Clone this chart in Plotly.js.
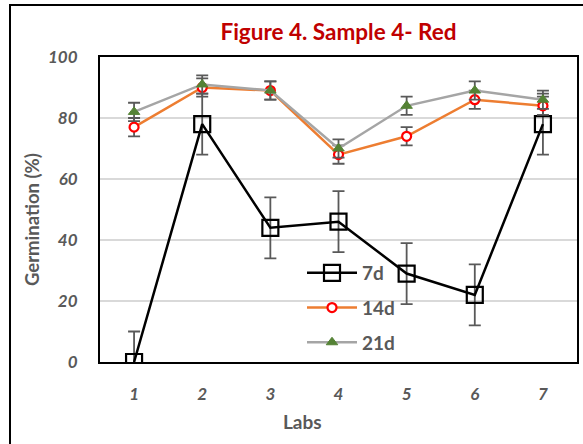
<!DOCTYPE html>
<html>
<head>
<meta charset="utf-8">
<script src="https://cdn.plot.ly/plotly-3.0.1.min.js"></script>
<style>html,body{margin:0;padding:0;background:#fff;}#chart{width:583px;height:444px;}</style>
</head>
<body>
<div id="chart"></div>
<script>
var labs = [1, 2, 3, 4, 5, 6, 7];
var tickLabels = ['1', '2', '3', '4', '5', '6', '7'];
var d7 = [0, 78, 44, 46, 29, 22, 78];
var d7err = [10, 10, 10, 10, 10, 10, 10];
var d14 = [77, 90, 89, 68, 74, 86, 84];
var d14err = [3, 3, 3, 3, 3, 3, 3];
var d21 = [82, 91, 89, 70, 84, 89, 86];
var d21err = [3, 3, 3, 3, 3, 3, 3];
var seriesNames = ['7d', '14d', '21d'];
var yTicks = [0, 20, 40, 60, 80, 100];
var titleText = 'Figure 4. Sample 4- Red';
var xTitle = 'Labs';
var yTitle = 'Germination (%)';

var grey = '#595959';
var fontFam = 'Lato, "Open Sans", sans-serif';

function errBar(arr) {
  return {type: 'data', array: arr, visible: true, color: grey, thickness: 1.8, width: 6};
}

var traces = [
  {x: labs, y: d7, name: seriesNames[0], type: 'scatter', mode: 'lines+markers',
   line: {color: '#000000', width: 2.5},
   marker: {symbol: 'square', size: 16, color: 'rgba(255,255,255,0)', line: {color: '#000000', width: 2.2}},
   error_y: errBar(d7err), legendgroup: 'a', cliponaxis: true},
  {x: labs, y: d14, name: seriesNames[1], type: 'scatter', mode: 'lines+markers',
   line: {color: '#ED7D31', width: 2.5},
   marker: {symbol: 'circle', size: 9, color: '#ffffff', line: {color: '#FF0000', width: 2.2}},
   error_y: errBar(d14err), legendgroup: 'b', cliponaxis: false},
  {x: labs, y: d21, name: seriesNames[2], type: 'scatter', mode: 'lines+markers',
   line: {color: '#A5A5A5', width: 2.5},
   marker: {symbol: 'triangle-up', size: 10, color: '#548235', line: {color: '#548235', width: 1}},
   error_y: errBar(d21err), legendgroup: 'c', cliponaxis: false}
];

var L = 100, R = 6, T = 57, B = 82;
var W = 583, H = 444;
var pw = W - L - R, ph = H - T - B;
function px2x(p) { return (p - L) / pw; }
function py2y(p) { return (H - B - p) / ph; }

var layout = {
  width: W, height: H,
  margin: {l: L, r: R, t: T, b: B, pad: 0},
  paper_bgcolor: '#ffffff', plot_bgcolor: '#ffffff',
  showlegend: true,
  title: {text: titleText, font: {family: fontFam, size: 22.5, color: '#C00000', weight: 'bold'},
          xref: 'paper', x: 0.5, xanchor: 'center', yref: 'container', y: 1 - 32 / H, yanchor: 'middle'},
  xaxis: {range: [0.5, 7.5], tickvals: labs, ticktext: tickLabels, showgrid: false, zeroline: false,
          showline: true, linecolor: '#000000', linewidth: 2, mirror: true, ticks: '',
          tickfont: {family: fontFam, size: 17, color: grey, weight: 'bold', style: 'italic'},
          ticklabelstandoff: 16},
  yaxis: {range: [0, 100], tickvals: yTicks, showgrid: true, gridcolor: '#D9D9D9', gridwidth: 1.5, zeroline: false,
          showline: true, linecolor: '#000000', linewidth: 2, mirror: true, ticks: '',
          tickfont: {family: fontFam, size: 17, color: grey, weight: 'bold', style: 'italic'},
          ticklabelstandoff: 17},
  legend: {x: px2x(302), y: py2y(254), xanchor: 'left', yanchor: 'top', bgcolor: 'rgba(0,0,0,0)',
           font: {family: fontFam, size: 19, color: grey, weight: 'bold'}, tracegroupgap: 7, traceorder: 'grouped',
           itemsizing: 'trace', itemwidth: 50},
  annotations: [
    {text: xTitle, xref: 'paper', yref: 'paper', x: px2x(302), y: py2y(421), xanchor: 'center', yanchor: 'middle',
     showarrow: false, font: {family: fontFam, size: 19, color: grey, weight: 'bold'}},
    {text: yTitle, xref: 'paper', yref: 'paper', x: px2x(32), y: py2y(220), xanchor: 'center', yanchor: 'middle',
     textangle: -90, showarrow: false, font: {family: fontFam, size: 18.5, color: grey, weight: 'bold'}}
  ],
  shapes: [
    {type: 'rect', xref: 'paper', yref: 'paper', x0: px2x(10), x1: px2x(600), y0: py2y(460), y1: py2y(5),
     line: {color: '#000000', width: 2}, fillcolor: 'rgba(0,0,0,0)', layer: 'below'}
  ]
};

Plotly.newPlot('chart', traces, layout, {displayModeBar: false, staticPlot: true});
</script>
</body>
</html>
